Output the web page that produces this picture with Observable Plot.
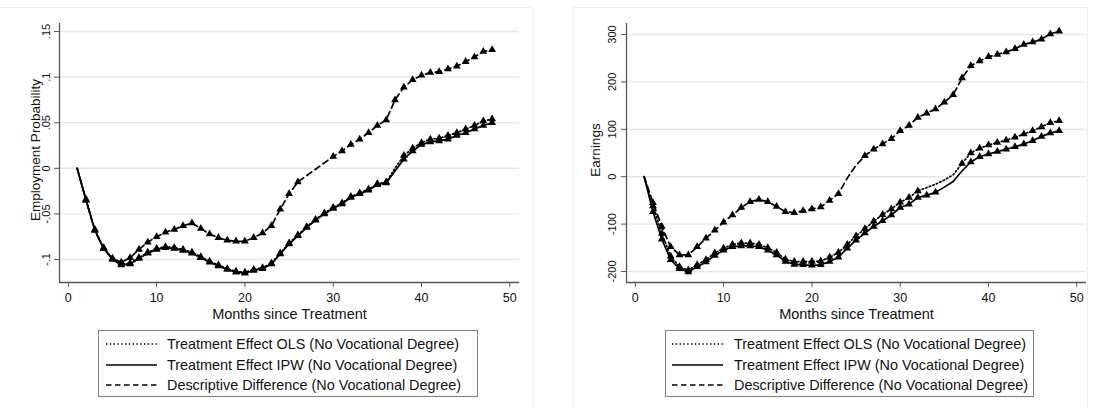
<!DOCTYPE html>
<html>
<head>
<meta charset="utf-8">
<script src="https://cdn.jsdelivr.net/npm/d3@7"></script>
<script src="https://cdn.jsdelivr.net/npm/@observablehq/plot@0.6"></script>
<style>
  html, body { margin: 0; padding: 0; background: #fff; }
  body { font-family: "Liberation Sans", Arial, sans-serif; }
  #wrap { position: relative; width: 1096px; height: 408px; overflow: hidden; background: #fff; }
  .frame { position: absolute; border: 1px solid #eeeeee; box-sizing: border-box; }
  .chart { position: absolute; top: 0; }
  .legend { position: absolute; border: 1px solid #808080; box-sizing: border-box; background: #fff; }
  .legend .row { position: absolute; left: 0; height: 20px; width: 100%; }
  .legend svg { position: absolute; top: 0; }
  .legend span { position: absolute; top: 0; line-height: 20px; font-size: 14.4px; color: #111; white-space: nowrap; }
</style>
</head>
<body>
<div id="wrap"></div>
<script>
// ---------------- data ----------------
const months = [1,2,3,4,5,6,7,8,9,10,11,12,13,14,15,16,17,18,19,20,21,22,23,24,
                25,26,27,28,29,30,31,32,33,34,35,36,37,38,39,40,41,42,43,44,45,46,47,48];
const xTicks = [0, 10, 20, 30, 40, 50];
const xTitle = "Months since Treatment";

const seriesNames = [
  "Treatment Effect OLS (No Vocational Degree)",
  "Treatment Effect IPW (No Vocational Degree)",
  "Descriptive Difference (No Vocational Degree)"
];

// Panel 1: Employment Probability
const empTitle = "Employment Probability";
const empTicks = [-0.1, -0.05, 0, 0.05, 0.1, 0.15];
const empTickLabels = ["-.1", "-.05", "0", ".05", ".1", ".15"];
const empOLS = [0,-0.034,-0.067,-0.087,-0.099,-0.105,-0.104,-0.098,-0.092,-0.088,-0.086,-0.087,-0.089,-0.092,-0.097,-0.102,-0.106,-0.110,-0.113,-0.114,-0.111,-0.109,-0.104,-0.093,
                -0.082,-0.073,-0.064,-0.056,-0.049,-0.043,-0.038,-0.031,-0.027,-0.023,-0.017,-0.015,0.000,0.014,0.022,0.028,0.032,0.033,0.036,0.039,0.043,0.047,0.052,0.054];
const empIPW = [0,-0.035,-0.068,-0.088,-0.100,-0.106,-0.105,-0.099,-0.093,-0.089,-0.087,-0.088,-0.090,-0.093,-0.098,-0.103,-0.107,-0.111,-0.114,-0.115,-0.112,-0.110,-0.105,-0.094,
                -0.083,-0.074,-0.065,-0.057,-0.050,-0.044,-0.039,-0.032,-0.028,-0.024,-0.018,-0.016,-0.003,0.010,0.019,0.026,0.029,0.030,0.032,0.036,0.039,0.043,0.047,0.050];
const empDesc = [0,-0.035,-0.068,-0.088,-0.099,-0.103,-0.098,-0.089,-0.081,-0.075,-0.070,-0.067,-0.063,-0.060,-0.066,-0.072,-0.076,-0.079,-0.080,-0.080,-0.076,-0.071,-0.063,-0.045,
                 -0.028,-0.015,-0.008,-0.001,0.006,0.013,0.019,0.026,0.032,0.039,0.047,0.053,0.075,0.089,0.097,0.102,0.105,0.106,0.109,0.112,0.117,0.122,0.128,0.130];
const empOLSNoMarker = [1, 37];
const empIPWNoMarker = [1, 37];
const empDescNoMarker = [1, 27, 28, 29];

// Panel 2: Earnings
const earnTitle = "Earnings";
const earnTicks = [-200, -100, 0, 100, 200, 300];
const earnTickLabels = ["-200", "-100", "0", "100", "200", "300"];
const earnOLS = [0,-62,-120,-168,-190,-197,-186,-175,-161,-151,-143,-140,-140,-143,-150,-160,-174,-179,-179,-179,-178,-170,-160,-143,
                 -125,-110,-94,-80,-68,-54,-44,-30,-23,-16,-7,4,28,50,60,67,72,77,83,90,97,105,114,118];
const earnIPW = [0,-74,-132,-175,-194,-201,-190,-180,-166,-155,-148,-146,-146,-148,-155,-165,-179,-185,-186,-187,-186,-179,-170,-151,
                 -134,-119,-105,-93,-81,-65,-58,-44,-39,-33,-22,-10,12,31,42,48,53,58,63,69,76,85,92,97];
const earnDesc = [0,-55,-105,-148,-165,-165,-148,-130,-113,-96,-81,-65,-53,-48,-53,-63,-74,-76,-72,-68,-64,-50,-36,-3,
                  24,44,58,69,80,97,108,125,134,143,157,173,208,234,244,253,258,263,270,279,284,290,301,307];
const earnOLSNoMarker = [1, 33, 34, 35, 36];
const earnIPWNoMarker = [1, 35, 36, 37];
const earnDescNoMarker = [1, 24, 25];

// ---------------- drawing ----------------
const dashes = ["1.4,2.4", null, "6,4"];
const FONT = '"Liberation Sans", Arial, sans-serif';
const wrap = document.getElementById("wrap");

function addDiv(cls, css) {
  const d = document.createElement("div");
  d.className = cls;
  Object.assign(d.style, css);
  wrap.appendChild(d);
  return d;
}

function drawPanel(cfg) {
  const {left, marginLeft, marginRight, yDomain, yTicks, yTickLabels, yTitle, titleDx, labelPad, series, noMarkers} = cfg;
  const H = 330, top = 23, bottom = 282;
  const xDomain = [-1, 51.1];
  const marks = [
    Plot.ruleY(yTicks, {stroke: "#e6e6e6", strokeWidth: 1.4}),
    Plot.ruleX([xDomain[0]], {stroke: "#555", strokeWidth: 1.3}),
    Plot.ruleY([yDomain[0]], {stroke: "#555", strokeWidth: 1.3}),
    Plot.axisX({ticks: xTicks, tickSize: 5, tickPadding: 5.5, label: null, stroke: "#555", fontSize: 12.5}),
    Plot.axisY({ticks: yTicks, tickFormat: d => yTickLabels[yTicks.indexOf(d)], tickSize: 5,
                tickRotate: -90, textAnchor: "middle", lineAnchor: "middle", tickPadding: labelPad,
                label: null, stroke: "#555", fontSize: 11})
  ];
  series.forEach((vals, si) => {
    const rows = months.map((m, i) => ({m, v: vals[i]}));
    marks.push(Plot.line(rows, {x: "m", y: "v", stroke: "#000", strokeWidth: 1.7,
                                strokeDasharray: dashes[si] || undefined}));
    marks.push(Plot.dot(rows.filter(d => !noMarkers[si].includes(d.m)),
                        {x: "m", y: "v", symbol: "triangle", r: 2.9, fill: "#000", stroke: null}));
  });
  marks.push(Plot.text([xTitle], {frameAnchor: "bottom", dy: 31.5, lineAnchor: "middle", fontSize: 14.5, fill: "#111"}));
  marks.push(Plot.text([yTitle], {frameAnchor: "left", dx: titleDx, dy: -3, rotate: -90, lineAnchor: "middle",
                                  textAnchor: "middle", fontSize: 13.5, fill: "#111"}));
  const svg = Plot.plot({
    width: 548, height: H,
    marginLeft, marginRight, marginTop: top, marginBottom: H - bottom,
    style: {fontFamily: FONT, color: "#111", background: "transparent", overflow: "visible"},
    x: {domain: xDomain},
    y: {domain: yDomain},
    marks
  });
  const holder = addDiv("chart", {left: left + "px", width: "548px"});
  holder.appendChild(svg);
}

function drawLegend(cfg) {
  const {left, width, symLeft, symWidth, textLeft} = cfg;
  const box = addDiv("legend", {left: left + "px", top: "330px", width: width + "px", height: "67px"});
  const rowTops = [3, 23.5, 43.5];
  seriesNames.forEach((name, i) => {
    const row = document.createElement("div");
    row.className = "row";
    row.style.top = rowTops[i] + "px";
    const s = d3.create("svg").attr("width", symWidth).attr("height", 20).style("left", symLeft + "px");
    s.append("line").attr("x1", 0).attr("x2", symWidth).attr("y1", 10).attr("y2", 10)
      .attr("stroke", "#000").attr("stroke-width", 1.6)
      .attr("stroke-dasharray", i === 0 ? "1.4,2.4" : i === 2 ? "5.5,3.5" : null);
    row.appendChild(s.node());
    const t = document.createElement("span");
    t.textContent = name;
    t.style.left = textLeft + "px";
    row.appendChild(t);
    box.appendChild(row);
  });
}

// outer light frames of the two graph regions
addDiv("frame", {left: "-2px", top: "7px", width: "535px", height: "410px"});
addDiv("frame", {left: "572px", top: "7px", width: "516px", height: "410px"});

drawPanel({left: 0, marginLeft: 59, marginRight: 29, yDomain: [-0.1252, 0.1588],
           yTicks: empTicks, yTickLabels: empTickLabels, yTitle: empTitle, titleDx: -24, labelPad: 8.2,
           series: [empOLS, empIPW, empDesc], noMarkers: [empOLSNoMarker, empIPWNoMarker, empDescNoMarker]});
drawPanel({left: 548, marginLeft: 78, marginRight: 10, yDomain: [-223.2, 323.2],
           yTicks: earnTicks, yTickLabels: earnTickLabels, yTitle: earnTitle, titleDx: -31.3, labelPad: 9.5,
           series: [earnOLS, earnIPW, earnDesc], noMarkers: [earnOLSNoMarker, earnIPWNoMarker, earnDescNoMarker]});

drawLegend({left: 98, width: 380, symLeft: 7, symWidth: 51, textLeft: 68});
drawLegend({left: 665, width: 369, symLeft: 6, symWidth: 51, textLeft: 68});
</script>
</body>
</html>
